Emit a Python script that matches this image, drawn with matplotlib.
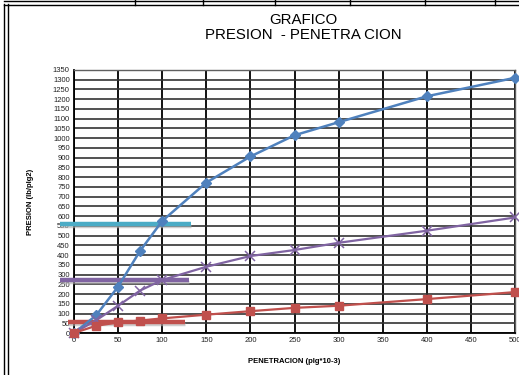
import matplotlib
matplotlib.use("Agg")
import matplotlib.pyplot as plt
from matplotlib.lines import Line2D

plt.rcParams['font.family'] = ['Liberation Sans', 'DejaVu Sans']

# Penetration (plg*10-3)
penetracion = [0, 25, 50, 75, 100, 150, 200, 250, 300, 400, 500]
# Pressure curves (lb/plg2)
presion_azul = [0, 90, 238, 422, 575, 772, 906, 1015, 1082, 1215, 1310]
presion_morada = [0, 65, 140, 218, 272, 340, 395, 426, 463, 525, 593]
presion_roja = [0, 37, 54, 64, 75, 94, 112, 129, 140, 174, 210]

# Reference levels (horizontal bars)
nivel_cyan = 560
nivel_morado = 270
nivel_rojo = 58

x_ticks = list(range(0, 501, 50))
y_ticks = list(range(0, 1351, 50))

fig = plt.figure(figsize=(5.19, 3.75), dpi=100)
ax = fig.add_axes([74 / 519, 42 / 375, 441 / 519, 263 / 375])

ax.set_xlim(0, 500)
ax.set_ylim(0, 1350)
ax.set_xticks(x_ticks)
ax.set_yticks(y_ticks)
ax.set_xticklabels([str(v) for v in x_ticks], fontsize=5.5, color='#222222')
ax.set_yticklabels([str(v) for v in y_ticks], fontsize=5.5, color='#222222')
ax.tick_params(length=0, pad=3)

ax.grid(axis='x', color='black', linewidth=1.3)
ax.grid(axis='y', color='#333333', linewidth=1.2)
ax.set_axisbelow(True)
for s in ['left', 'bottom']:
    ax.spines[s].set_color('black')
    ax.spines[s].set_linewidth(1.3)
for s in ['top', 'right']:
    ax.spines[s].set_color('#606060')
    ax.spines[s].set_linewidth(1.0)

# Reference bars with a soft shadow, extending past the left axis
def barra(y, x0, x1, color):
    ax.plot([x0, x1], [y - 10, y - 10], color='#b0b0b0', linewidth=2.5,
            alpha=0.6, clip_on=False, zorder=3, solid_capstyle='butt')
    ax.plot([x0, x1], [y, y], color=color, linewidth=3.2,
            clip_on=False, zorder=4, solid_capstyle='butt')

barra(nivel_cyan, -16, 133, '#4BACC6')
barra(nivel_morado, -16, 130, '#8064A2')
barra(nivel_rojo, -7, 126, '#C0504D')

ax.plot(penetracion, presion_azul, color='#4F81BD', linewidth=1.8,
        marker='D', markersize=4.8, zorder=5, clip_on=False)
ax.plot(penetracion, presion_morada, color='#8064A2', linewidth=1.6,
        marker='x', markersize=7, markeredgewidth=1.1, zorder=5, clip_on=False)
ax.plot(penetracion, presion_roja, color='#C0504D', linewidth=1.6,
        marker='s', markersize=6.2, zorder=5, clip_on=False)

fig.text(303 / 519, 1 - 20 / 375, 'GRAFICO', ha='center', va='center', fontsize=10.8)
fig.text(303 / 519, 1 - 35 / 375, 'PRESION  - PENETRA CION', ha='center',
         va='center', fontsize=10.8)
ax.set_xlabel('PENETRACION (plg*10-3)', fontsize=5.5, fontweight='bold', labelpad=10)
ax.set_ylabel('PRESION (lb/plg2)', fontsize=5.5, fontweight='bold', labelpad=14)

# Spreadsheet frame: double lines at left and top, with column marks
for xp in (3.5, 7.5):
    fig.add_artist(Line2D([xp / 519, xp / 519], [0, 1 - 4 / 375],
                          color='black', linewidth=1.0))
for yp in (1.0, 4.5):
    fig.add_artist(Line2D([3.5 / 519, 1], [1 - yp / 375, 1 - yp / 375],
                          color='black', linewidth=1.0))
for xc in (135, 203, 275, 350, 425, 495):
    fig.add_artist(Line2D([xc / 519, xc / 519], [1, 1 - 4.5 / 375],
                          color='black', linewidth=1.0))

fig.savefig('out.png', dpi=100)
